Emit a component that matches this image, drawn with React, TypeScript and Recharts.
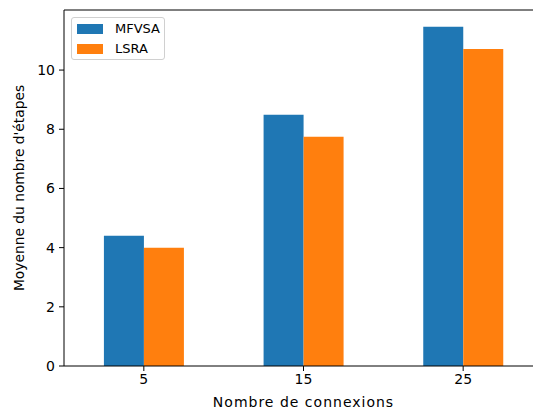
import React from 'react';
import {
  BarChart,
  Bar,
  XAxis,
  YAxis,
  Legend,
  ReferenceLine
} from 'recharts';

const connexions = ['5', '15', '25'];
const seriesNames = ['MFVSA', 'LSRA'];
const mfvsa = [4.4, 8.49, 11.46];
const lsra = [4.0, 7.75, 10.71];
const yTicks = [0, 2, 4, 6, 8, 10];
const yMax = 12.03;

const data = connexions.map((c, i) => ({ name: c, MFVSA: mfvsa[i], LSRA: lsra[i] }));

const FONT = '"DejaVu Sans", sans-serif';

const renderLegend = (props: any) => {
  // garder l'ordre des séries, pas l'ordre alphabétique
  const payload = [...(props.payload || [])].sort(
    (a: any, b: any) => seriesNames.indexOf(a.value) - seriesNames.indexOf(b.value)
  );
  return (
    <div
      style={{
        border: '1px solid #d0d0d0',
        borderRadius: 3,
        background: 'rgba(255,255,255,0.8)',
        width: 94,
        height: 43,
        boxSizing: 'border-box',
        padding: '1px 0 0 5px',
        fontFamily: FONT,
        fontSize: 13,
        color: '#000'
      }}
    >
      {payload.map((entry: any) => (
        <div key={entry.value} style={{ display: 'flex', alignItems: 'center', height: 20 }}>
          <span style={{ display: 'inline-block', width: 26, height: 10, background: entry.color }} />
          <span style={{ marginLeft: 12, lineHeight: '20px' }}>{entry.value}</span>
        </div>
      ))}
    </div>
  );
};

const App: React.FC = () => {
  return (
    <div style={{ position: 'fixed', left: 0, top: 0, width: 533, height: 412, overflow: 'hidden', background: '#fff' }}>
      <BarChart
        width={560}
        height={412}
        data={data}
        margin={{ top: 10, right: 17, left: 0, bottom: 0 }}
        barCategoryGap="25%"
        barGap={0}
      >
        <XAxis
          dataKey="name"
          height={46}
          stroke="#000"
          tickSize={5}
          tickMargin={3}
          tick={{ fill: '#000', fontSize: 14, fontFamily: FONT }}
          label={{
            value: 'Nombre de connexions',
            position: 'insideBottom',
            offset: 5,
            fill: '#000',
            fontSize: 14,
            fontFamily: FONT,
            letterSpacing: 1
          }}
        />
        <YAxis
          width={64}
          domain={[0, yMax]}
          ticks={yTicks}
          stroke="#000"
          tickSize={5}
          tickMargin={4}
          tick={{ fill: '#000', fontSize: 14, fontFamily: FONT }}
          label={{
            value: "Moyenne du nombre d'étapes",
            angle: -90,
            position: 'insideLeft',
            offset: 19,
            fill: '#000',
            fontSize: 13.8,
            fontFamily: FONT,
            style: { textAnchor: 'middle' }
          }}
        />
        <ReferenceLine y={yMax} stroke="#000" />
        <Legend
          layout="horizontal"
          verticalAlign="middle"
          align="center"
          wrapperStyle={{ left: 71, top: 17, width: 'auto', height: 'auto' }}
          content={renderLegend}
        />
        <Bar dataKey="MFVSA" fill="#1f77b4" isAnimationActive={false} />
        <Bar dataKey="LSRA" fill="#ff7f0e" isAnimationActive={false} />
      </BarChart>
    </div>
  );
};

export default App;
